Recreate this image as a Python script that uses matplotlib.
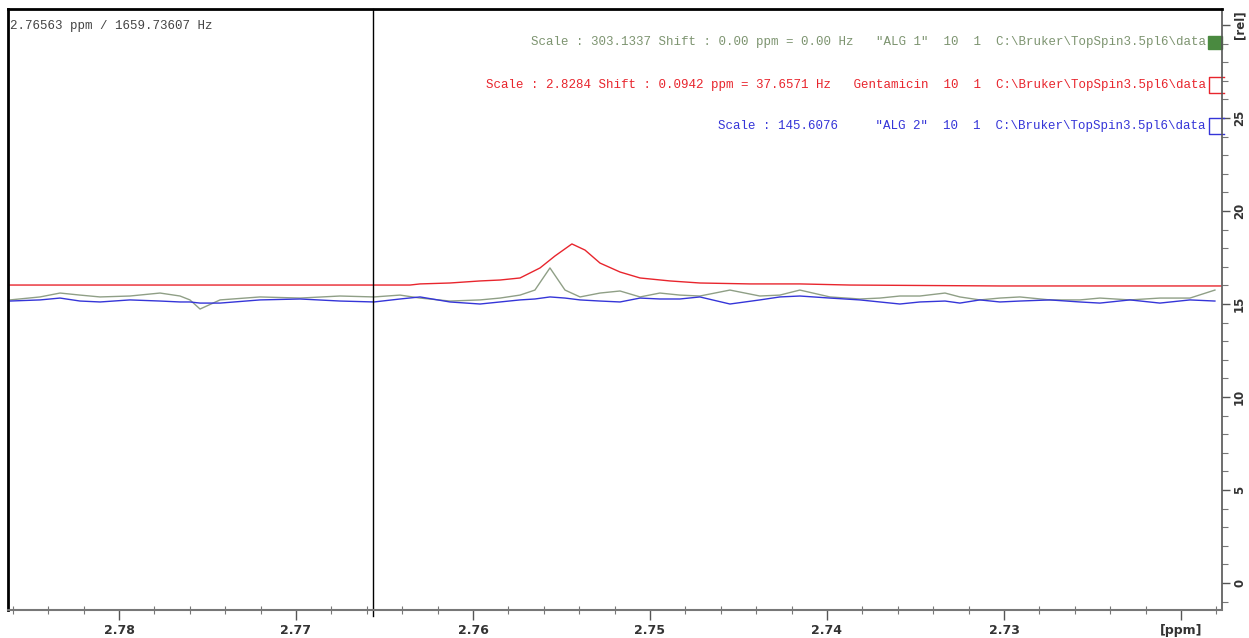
import matplotlib
matplotlib.use("Agg")
import numpy as np
from matplotlib import pyplot as plt
from matplotlib.ticker import MultipleLocator, FixedLocator

ppm_pts = [2.78616, 2.78446, 2.78333, 2.78220, 2.78107, 2.77938, 2.77768, 2.77655,
           2.77599, 2.77542, 2.77429, 2.77203, 2.76977, 2.76751, 2.76559, 2.76412,
           2.76299, 2.76130, 2.75960, 2.75847, 2.75734, 2.75650, 2.75565, 2.75480,
           2.75395, 2.75282, 2.75169, 2.75056, 2.74944, 2.74831, 2.74718, 2.74548,
           2.74379, 2.74266, 2.74153, 2.73983, 2.73814, 2.73701, 2.73588, 2.73475,
           2.73333, 2.73249, 2.73136, 2.73023, 2.72910, 2.72740, 2.72571, 2.72458,
           2.72288, 2.72119, 2.71949, 2.71808]

alg1 = [15.22, 15.38, 15.59, 15.48, 15.38, 15.43, 15.59, 15.43,
        15.22, 14.73, 15.22, 15.38, 15.32, 15.43, 15.38, 15.48,
        15.32, 15.16, 15.22, 15.32, 15.48, 15.75, 16.94, 15.75,
        15.38, 15.59, 15.70, 15.38, 15.59, 15.48, 15.43, 15.75,
        15.43, 15.48, 15.75, 15.38, 15.27, 15.32, 15.43, 15.43,
        15.59, 15.38, 15.22, 15.32, 15.38, 15.22, 15.22, 15.32,
        15.22, 15.32, 15.32, 15.75]

alg2 = [15.16, 15.22, 15.32, 15.16, 15.11, 15.22, 15.16, 15.11,
        15.11, 15.05, 15.05, 15.22, 15.27, 15.16, 15.11, 15.27,
        15.38, 15.11, 15.00, 15.11, 15.22, 15.27, 15.38, 15.32,
        15.22, 15.16, 15.11, 15.32, 15.27, 15.27, 15.38, 15.00,
        15.22, 15.38, 15.43, 15.32, 15.22, 15.11, 15.00, 15.11,
        15.16, 15.05, 15.22, 15.11, 15.16, 15.22, 15.11, 15.05,
        15.22, 15.05, 15.22, 15.16]

genta_ppm = [2.78627, 2.76356, 2.76299, 2.76130, 2.75960, 2.75847, 2.75734, 2.75621,
             2.75537, 2.75441, 2.75367, 2.75282, 2.75169, 2.75056, 2.74887, 2.74718,
             2.74435, 2.74153, 2.73870, 2.73023, 2.71774]
genta = [16.02, 16.02, 16.08, 16.13, 16.24, 16.29, 16.40, 16.94,
         17.58, 18.23, 17.90, 17.20, 16.72, 16.40, 16.24, 16.13,
         16.08, 16.08, 16.02, 15.97, 15.97]

cursor_ppm = 2.76563
cursor_hz = 1659.73607
x_ticks = [2.78, 2.77, 2.76, 2.75, 2.74, 2.73, 2.72]
x_labels = ["2.78", "2.77", "2.76", "2.75", "2.74", "2.73", "[ppm]"]
y_ticks = [0, 5, 10, 15, 20, 25, 30]
y_labels = ["0", "5", "10", "15", "20", "25", "[rel]"]

legend_txt = [
    'Scale : 303.1337 Shift : 0.00 ppm = 0.00 Hz   "ALG 1"  10  1  C:\\Bruker\\TopSpin3.5pl6\\data',
    'Scale : 2.8284 Shift : 0.0942 ppm = 37.6571 Hz   Gentamicin  10  1  C:\\Bruker\\TopSpin3.5pl6\\data',
    'Scale : 145.6076     "ALG 2"  10  1  C:\\Bruker\\TopSpin3.5pl6\\data',
]
c_alg1 = "#8f9f86"
c_alg1_txt = "#7d9470"
c_genta = "#e8252d"
c_alg2 = "#3535d8"

fig = plt.figure(figsize=(12.49, 6.38), dpi=100)
ax = fig.add_axes([8 / 1249, 28 / 638, 1214 / 1249, 601 / 638])

ax.plot(ppm_pts, alg1, color=c_alg1, lw=1.0)
ax.plot(genta_ppm, genta, color=c_genta, lw=1.0)
ax.plot(ppm_pts, alg2, color=c_alg2, lw=1.0)
ax.axvline(cursor_ppm, ymin=-0.01, color="black", lw=1.0, clip_on=False)

ax.set_xlim(2.78627, 2.71768)
ax.set_ylim(-1.45, 30.86)

# x axis, bruker style
ax.xaxis.set_major_locator(FixedLocator(x_ticks))
ax.set_xticklabels(x_labels)
ax.xaxis.set_minor_locator(MultipleLocator(0.002))
ax.tick_params(axis="x", which="major", direction="out", length=7, width=1,
               color="#555555", labelsize=9, pad=3)
ax.tick_params(axis="x", which="minor", direction="inout", length=6, width=0.8,
               color="#777777")
for t in ax.get_xticklabels():
    t.set_fontweight("bold")
    t.set_color("#333333")

# right hand intensity axis
ax.yaxis.tick_right()
ax.yaxis.set_major_locator(FixedLocator(y_ticks))
ax.set_yticklabels(y_labels)
ax.yaxis.set_minor_locator(MultipleLocator(1))
ax.tick_params(axis="y", which="major", direction="out", length=6, width=1,
               color="#555555", labelsize=8.5, pad=2)
ax.tick_params(axis="y", which="minor", direction="out", length=4, width=0.8,
               color="#777777")
for t in ax.get_yticklabels():
    t.set_fontweight("bold")
    t.set_color("#333333")
    t.set_rotation(90)
    t.set_va("center")

ax.spines["left"].set_linewidth(2)
ax.spines["left"].set_color("black")
ax.spines["top"].set_linewidth(2)
ax.spines["top"].set_color("black")
ax.spines["bottom"].set_color("#777777")
ax.spines["bottom"].set_linewidth(1.5)
ax.spines["right"].set_color("#555555")
ax.spines["right"].set_linewidth(1.2)

mono = "Liberation Mono"
ax.text(0.002, 0.972, f"{cursor_ppm:.5f} ppm / {cursor_hz:.5f} Hz", transform=ax.transAxes,
        fontsize=9, family=mono, color="#444444", va="center", ha="left")

# spectrum labels with their little colour keys
rows_y = [0.945, 0.873, 0.805]
colors = [c_alg1_txt, c_genta, c_alg2]
for txt, yy, col in zip(legend_txt, rows_y, colors):
    ax.text(0.9865, yy, txt, transform=ax.transAxes, fontsize=9, family=mono,
            color=col, va="center", ha="right")

ax.add_patch(plt.Rectangle((0.9885, 0.933), 0.0115, 0.022, transform=ax.transAxes,
                           color="#4a8a40", clip_on=False))
for yy, col in [(rows_y[1], c_genta), (rows_y[2], c_alg2)]:
    xs = [1.002, 0.9895, 0.9895, 1.002]
    ys = [yy + 0.014, yy + 0.014, yy - 0.013, yy - 0.013]
    ax.plot(xs, ys, color=col, lw=1.0, transform=ax.transAxes, clip_on=False)

fig.savefig("out.png", dpi=100)
